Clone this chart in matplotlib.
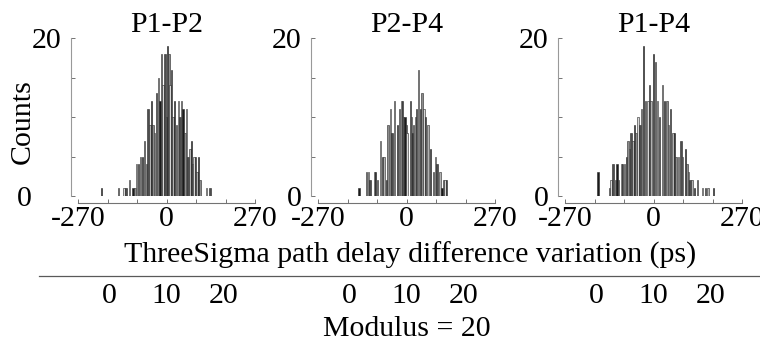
import matplotlib
matplotlib.use("Agg")
import matplotlib.pyplot as plt
from matplotlib.lines import Line2D
from matplotlib.transforms import ScaledTranslation

plt.rcParams['font.family'] = ['Liberation Serif', 'DejaVu Serif']
plt.rcParams['axes.unicode_minus'] = False

# 每个面板的直方图数据 (bin 中心, 计数)
titles = ["P1-P2", "P2-P4", "P1-P4"]

p12_x = [-198, -146, -129, -124, -113, -102, -96, -91, -85, -79,
         -73, -67, -61, -56, -51, -46, -41, -36, -31, -25,
         -20, -15, -10, -5, 0, 3, 7, 11, 15, 20,
         25, 30, 36, 41, 46, 51, 56, 61, 66, 71,
         76, 81, 84, 89, 93, 97, 102, 122, 132]
p12_n = [1, 1, 1, 1, 2, 1, 1, 4, 4, 5,
         5, 7, 4, 11, 9, 12, 9, 8, 13, 15,
         12, 18, 14, 18, 10, 19, 18, 14, 16, 10,
         12, 9, 12, 10, 12, 11, 8, 11, 5, 6,
         7, 4, 5, 5, 3, 5, 2, 1, 1]

p24_x = [-145, -122, -116, -112, -98, -95, -89, -79, -74, -69,
         -61, -56, -49, -44, -37, -28, -21, -16, -13, -9,
         -5, 0, 2, 12, 15, 18, 22, 27, 30, 36,
         43, 48, 53, 58, 65, 73, 83, 88, 93, 102,
         109, 113, 118, 122]
p24_n = [1, 3, 3, 2, 3, 3, 2, 7, 5, 5,
         2, 9, 11, 8, 12, 9, 11, 12, 12, 10,
         10, 9, 8, 12, 10, 8, 9, 10, 11, 16,
         11, 13, 11, 10, 9, 6, 3, 5, 4, 3,
         1, 2, 2, 2]

p14_x = [-170, -134, -129, -124, -116, -112, -107, -98, -94, -88,
         -83, -78, -73, -68, -63, -58, -53, -48, -41, -36,
         -31, -25, -17, -12, -7, 0, 6, 13, 18, 28,
         33, 41, 46, 52, 59, 64, 69, 76, 84, 89,
         97, 102, 107, 112, 118, 125, 135, 150, 158, 166,
         183]
p14_n = [3, 1, 2, 4, 2, 4, 2, 4, 4, 4,
         5, 7, 6, 8, 7, 9, 8, 10, 9, 11,
         19, 12, 12, 14, 12, 18, 17, 12, 10, 14,
         12, 12, 9, 11, 8, 8, 5, 5, 7, 5,
         6, 4, 3, 2, 2, 1, 2, 1, 1, 1,
         1]

panel_x = [p12_x, p24_x, p14_x]
panel_n = [p12_n, p24_n, p14_n]

x_ticks = [-270, -180, -90, 0, 90, 180, 270]
x_labels = ["-270", "", "", "0", "", "", "270"]
y_ticks = [0, 5, 10, 15, 20]
y_labels = ["0", "", "", "", "20"]
mod_ticks = [0, 10, 20]

SHADES = ['0.1', '0.55', '0.85', '0.3', '0.7']
W, H = 760, 345
lefts = [78, 318, 565]
FS = 21.5

fig = plt.figure(figsize=(W / 100, H / 100), dpi=100)

for i in range(3):
    ax = fig.add_axes([lefts[i] / W, 149 / H, 177 / W, 158 / H])
    xs, ns = panel_x[i], panel_n[i]
    cols = [SHADES[k % len(SHADES)] for k in range(len(xs))]
    ax.hlines(0, min(xs), max(xs), color='0.15', lw=0.7)
    ax.bar(xs, ns, width=4.5, color=cols, edgecolor='0.15', linewidth=0.4)
    ax.set_xlim(-270, 270)
    ax.set_ylim(0, 20)
    ax.set_xticks(x_ticks)
    ax.set_xticklabels(x_labels)
    ax.set_yticks(y_ticks)
    ax.set_yticklabels(y_labels)
    for s in ['top', 'right']:
        ax.spines[s].set_visible(False)
    ax.spines['left'].set_position(('outward', 5))
    ax.spines['bottom'].set_position(('outward', 5))
    ax.spines['left'].set_color('0.6')
    ax.spines['bottom'].set_color('0.45')
    ax.spines['left'].set_linewidth(0.8)
    ax.spines['bottom'].set_linewidth(0.8)
    ax.tick_params(axis='both', direction='in', length=3, width=0.7,
                   colors='0.45', labelcolor='black', labelsize=FS)
    ax.tick_params(axis='x', pad=2)
    ax.tick_params(axis='y', pad=7)
    ax.set_title(titles[i], fontsize=FS, pad=2)
    if i == 0:
        # 第一个面板的 "0" 标签偏左
        lab = ax.get_yticklabels()[0]
        lab.set_transform(lab.get_transform() +
                          ScaledTranslation(-0.3, 0, fig.dpi_scale_trans))

    # 底部 Modulus 轴
    bx = fig.add_axes([lefts[i] / W, (H - 282) / H, 177 / W, 0.001])
    bx.set_xlim(-5.5, 25.5)
    bx.set_xticks(mod_ticks)
    bx.set_yticks([])
    for s in bx.spines.values():
        s.set_visible(False)
    bx.tick_params(axis='x', length=0, labelsize=FS, pad=1)
    bx.patch.set_alpha(0)

fig.text(23 / W, 1 - 122 / H, "Counts", rotation=90, fontsize=FS,
         ha='center', va='center')
fig.text(410 / W, 1 - 255 / H, "ThreeSigma path delay difference variation (ps)",
         fontsize=FS, ha='center', va='center')
fig.add_artist(Line2D([39 / W, 1], [1 - 276 / H, 1 - 276 / H],
                      transform=fig.transFigure, color='0.35', lw=0.9))
fig.text(407 / W, 1 - 329 / H, "Modulus = 20", fontsize=FS,
         ha='center', va='center')

fig.savefig("out.png", dpi=100)
